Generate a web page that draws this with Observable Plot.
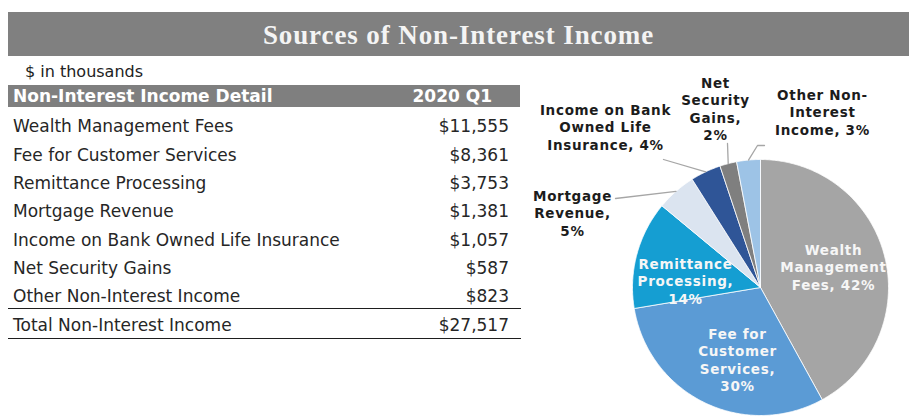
<!DOCTYPE html>
<html>
<head>
<meta charset="utf-8">
<script src="https://cdn.jsdelivr.net/npm/d3@7"></script>
<script src="https://cdn.jsdelivr.net/npm/@observablehq/plot@0.6"></script>
<style>
  html, body { margin: 0; padding: 0; background: #fff; }
  #root { position: relative; width: 909px; height: 417px; overflow: hidden; font-family: "DejaVu Sans", Verdana, sans-serif; }
  .abs { position: absolute; white-space: nowrap; }
  #titlebar { left: 8px; top: 12px; width: 901px; height: 44px; background: #808080; color: #f4f4f4;
    font-family: "Liberation Serif", serif; font-weight: bold; font-size: 27px; letter-spacing: 0.9px;
    text-align: center; line-height: 47px; }
  #units { left: 25px; top: 61px; font-size: 16px; color: #222; line-height: 22px; }
  #head { left: 8px; top: 85px; width: 512px; height: 22px; background: #7f7f7f; color: #fff; font-weight: bold; font-size: 17px; line-height: 23px; }
  .row { left: 8px; width: 501px; height: 28px; line-height: 28px; font-size: 17px; color: #262626; }
  .row .lab { position: absolute; left: 5px; }
  .row .val { position: absolute; right: 0; }
  .rule { left: 8px; width: 513px; height: 0; border-top: 1.5px solid #1e1e1e; }
  #pie { left: 520px; top: 60px; }
  #pie svg text { letter-spacing: 0.7px; }
</style>
</head>
<body>
<div id="root">
  <div id="titlebar" class="abs"></div>
  <div id="units" class="abs"></div>
  <div id="head" class="abs"><span style="position:absolute;left:5px"></span><span style="position:absolute;right:28px"></span></div>
  <div id="pie" class="abs"></div>
</div>
<script>
// ---- data ----
const titleText = "Sources of Non-Interest Income";
const unitsText = "$ in thousands";
const headerLabels = ["Non-Interest Income Detail", "2020 Q1"];
const categories = [
  "Wealth Management Fees",
  "Fee for Customer Services",
  "Remittance Processing",
  "Mortgage Revenue",
  "Income on Bank Owned Life Insurance",
  "Net Security Gains",
  "Other Non-Interest Income"
];
const values = [11555, 8361, 3753, 1381, 1057, 587, 823];
const totalLabel = "Total Non-Interest Income";
const totalValue = 27517;
const pieLabelNames = [
  "Wealth\nManagement\nFees",
  "Fee for\nCustomer\nServices",
  "Remittance\nProcessing",
  "Mortgage\nRevenue",
  "Income on Bank\nOwned Life\nInsurance",
  "Net\nSecurity\nGains",
  "Other Non-\nInterest\nIncome"
];
const percentSeparators = [", ", ",\n", ",\n", ",\n", ", ", ",\n", ", "];
const sliceColors = ["#a5a5a5", "#5b9bd5", "#159ed2", "#dbe4f0", "#2f5597", "#7f7f7f", "#9dc3e6"];

// ---- layout (page pixels) ----
const CX = 760, CY = 287, R = 128;
const PIE_LEFT = 520, PIE_TOP = 60, PIE_W = 389, PIE_H = 357;
const labelLayout = [
  {x: 833, y: 266, inside: true},
  {x: 737, y: 359, inside: true},
  {x: 685, y: 280, inside: true},
  {x: 572, y: 212, inside: false, leader: [[615, 198]]},
  {x: 605, y: 126, inside: false, leader: [[663, 159]]},
  {x: 715, y: 108, inside: false, leader: [[727, 143]]},
  {x: 822, y: 111, inside: false, leader: [[757, 145], [764, 145]]}
];
const toU = px => (px - CX) / R;
const toV = py => (CY - py) / R;

// ---- HTML table ----
const fmt = v => "$" + d3.format(",")(v);
document.getElementById("titlebar").textContent = titleText;
document.getElementById("units").textContent = unitsText;
const headSpans = document.querySelectorAll("#head span");
headSpans[0].textContent = headerLabels[0];
headSpans[1].textContent = headerLabels[1];
const root = document.getElementById("root");
const rowCenters = [126, 154.5, 183, 211, 239.5, 268, 296];
function addRow(label, value, cy) {
  const r = document.createElement("div");
  r.className = "abs row";
  r.style.top = (cy - 14) + "px";
  const a = document.createElement("span"); a.className = "lab"; a.textContent = label;
  const b = document.createElement("span"); b.className = "val"; b.textContent = fmt(value);
  r.appendChild(a); r.appendChild(b);
  root.appendChild(r);
}
categories.forEach((c, i) => addRow(c, values[i], rowCenters[i]));
addRow(totalLabel, totalValue, 324.5);
[308, 338].forEach(t => {
  const l = document.createElement("div");
  l.className = "abs rule";
  l.style.top = t + "px";
  root.appendChild(l);
});

// ---- pie via Plot ----
const arcs = d3.pie().sort(null).value(d => d.value)(categories.map((c, i) => ({name: c, value: values[i]})));
const slicePts = [];
arcs.forEach(a => {
  const name = a.data.name;
  slicePts.push({name, x: 0, y: 0});
  const n = Math.max(4, Math.ceil((a.endAngle - a.startAngle) / 0.01));
  for (let k = 0; k <= n; k++) {
    const t = a.startAngle + (a.endAngle - a.startAngle) * k / n;
    slicePts.push({name, x: Math.sin(t), y: Math.cos(t)});
  }
  slicePts.push({name, x: 0, y: 0});
});
const sum = d3.sum(values);
const labels = arcs.map((a, i) => ({
  text: pieLabelNames[i] + percentSeparators[i] + Math.round(a.data.value / sum * 100) + "%",
  x: toU(labelLayout[i].x),
  y: toV(labelLayout[i].y),
  inside: labelLayout[i].inside
}));
const leaders = [];
arcs.forEach((a, i) => {
  const L = labelLayout[i];
  if (!L.leader) return;
  const mid = (a.startAngle + a.endAngle) / 2;
  leaders.push({id: i, x: Math.sin(mid), y: Math.cos(mid)});
  L.leader.forEach(p => leaders.push({id: i, x: toU(p[0]), y: toV(p[1])}));
});

const plot = Plot.plot({
  width: PIE_W,
  height: PIE_H,
  margin: 0,
  x: {domain: [-1, 1], range: [CX - PIE_LEFT - R, CX - PIE_LEFT + R], axis: null},
  y: {domain: [-1, 1], range: [CY - PIE_TOP + R, CY - PIE_TOP - R], axis: null},
  color: {domain: categories, range: sliceColors},
  style: {background: "transparent", overflow: "visible"},
  marks: [
    Plot.line(slicePts, {x: "x", y: "y", z: "name", fill: "name", stroke: "#ffffff", strokeWidth: 1, strokeOpacity: 0.8, curve: "linear"}),
    Plot.line(leaders, {x: "x", y: "y", z: "id", stroke: "#a6a6a6", strokeWidth: 1.3}),
    Plot.text(labels.filter(d => d.inside), {x: "x", y: "y", text: "text", fill: "#f6f6f6", fontWeight: "bold", fontSize: 13.5, lineHeight: 1.3, fontFamily: "DejaVu Sans, sans-serif"}),
    Plot.text(labels.filter(d => !d.inside), {x: "x", y: "y", text: "text", fill: "#1c1c1c", fontWeight: "bold", fontSize: 13.5, lineHeight: 1.3, fontFamily: "DejaVu Sans, sans-serif"})
  ]
});
document.getElementById("pie").appendChild(plot);
</script>
</body>
</html>
